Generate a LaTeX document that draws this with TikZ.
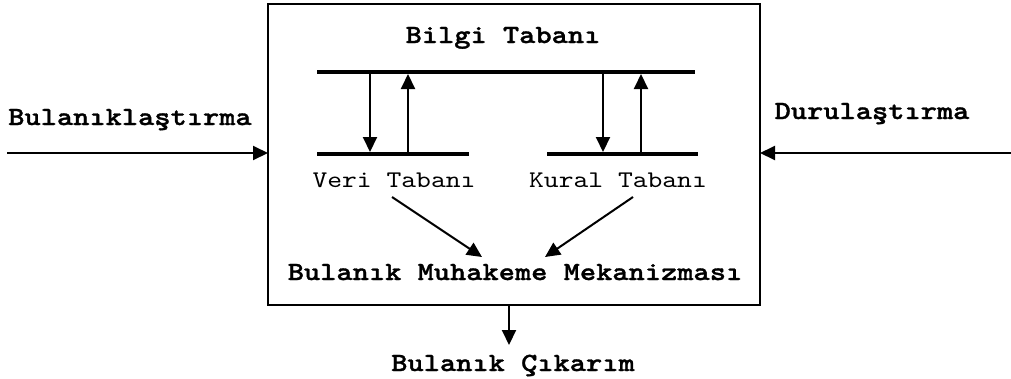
\documentclass[tikz,border=0pt]{standalone}
\usepackage{fontspec}
\newfontfamily\cour{lmmono10-regular.otf}[BoldFont=lmmonolt10-bold.otf,BoldFeatures={FakeBold=1.2},FakeStretch=1.18]
\usetikzlibrary{arrows.meta}
\begin{document}
\begin{tikzpicture}[x=1pt,y=-1pt,
  lbl/.style={font=\cour\bfseries\fontsize{26.2}{30}\selectfont,inner sep=0pt,anchor=base},
  sublbl/.style={font=\cour\fontsize{23.9}{28}\selectfont,inner sep=0pt,anchor=base},
  bar/.style={line width=4pt},
  arr/.style={line width=2pt,-{Triangle[length=15pt,width=14pt]}},
  frame/.style={line width=2pt}]
\useasboundingbox (0,0) rectangle (1011,378);
% main box
\draw[frame] (268,4) rectangle (760,305);
\coordinate (boxL) at (268,153);
\coordinate (boxR) at (760,153);
\coordinate (boxB) at (509,305);
% bars
\coordinate (topL) at (317,72); \coordinate (topR) at (695,72);
\coordinate (vL) at (317,154); \coordinate (vR) at (469,154);
\coordinate (kL) at (547,154); \coordinate (kR) at (698,154);
\draw[bar] (topL) -- (topR);
\draw[bar] (vL) -- (vR);
\draw[bar] (kL) -- (kR);
% labels
\node[lbl] (bilgi) at (503,43) {Bilgi Tabanı};
\node[lbl] (bul) at (130,125) {Bulanıklaştırma};
\node[lbl] (dur) at (872,119) {Durulaştırma};
\node[sublbl] (veri) at (394,187) {Veri Tabanı};
\node[sublbl] (kural) at (618,187) {Kural Tabanı};
\node[lbl] (muh) at (515,280) {Bulanık Muhakeme Mekanizması};
\node[lbl] (cik) at (513,371) {Bulanık Çıkarım};
% vertical arrows
\coordinate (a1s) at (370,74); \coordinate (a1e) at (370,152);
\coordinate (a2s) at (408,152); \coordinate (a2e) at (408,74);
\coordinate (a3s) at (603,74); \coordinate (a3e) at (603,152);
\coordinate (a4s) at (641,152); \coordinate (a4e) at (641,74);
\draw[arr] (a1s) -- (a1e);
\draw[arr] (a2s) -- (a2e);
\draw[arr] (a3s) -- (a3e);
\draw[arr] (a4s) -- (a4e);
% diagonal arrows
\coordinate (d1s) at (392,197); \coordinate (d1e) at (482,257);
\coordinate (d2s) at (633,197); \coordinate (d2e) at (545,257);
\draw[arr] (d1s) -- (d1e);
\draw[arr] (d2s) -- (d2e);
% input/output arrows
\coordinate (inS) at (7,153);
\coordinate (outS) at (1011,153);
\coordinate (cikT) at (509,345);
\draw[arr] (inS) -- (boxL);
\draw[arr] (outS) -- (boxR);
\draw[arr] (boxB) -- (cikT);
\end{tikzpicture}
\end{document}
